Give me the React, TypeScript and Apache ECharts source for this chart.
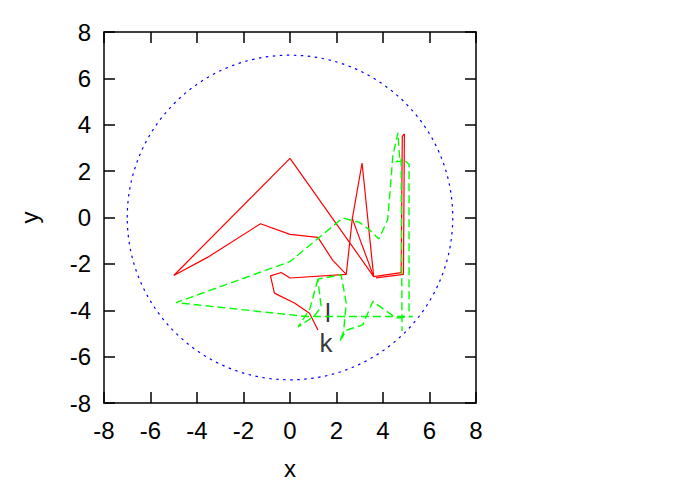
import React, { useEffect, useRef } from "react";
import * as echarts from "echarts";

const xTicks = [-8, -6, -4, -2, 0, 2, 4, 6, 8];
const yTicks = [-8, -6, -4, -2, 0, 2, 4, 6, 8];

// red solid trajectory (two pieces)
const redA: number[][] = [
  [1.2, -4.85], [0.84, -4.13], [0.19, -3.69], [-0.67, -3.26], [-0.84, -2.52],
  [-0.38, -2.37], [0.0, -2.61], [2.42, -2.45], [2.68, -0.05], [3.1, 2.35],
  [3.6, -2.55], [0.0, 2.55], [-5.0, -2.5], [-3.53, -1.71], [-1.27, -0.27],
  [0.0, -0.73], [1.2, -0.86], [1.84, -1.85], [2.42, -2.45],
];
const redB: number[][] = [
  [2.68, -0.05], [3.6, -2.55], [4.78, -2.38], [4.83, 3.5], [4.92, 3.6],
  [4.88, -2.45], [3.7, -2.6],
];

// green dashed trajectory (two pieces)
const greenA: number[][] = [
  [1.2, -2.66], [0.85, -3.95], [0.35, -4.72], [1.05, -4.25], [1.34, -3.85],
  [1.2, -2.66], [2.2, -2.47], [2.42, -3.7], [2.3, -4.95], [2.13, -5.35],
  [2.45, -4.85], [3.13, -4.63], [3.56, -3.62], [4.57, -4.34], [5.28, -4.27],
  [0.7, -4.27], [-4.9, -3.67], [0.0, -1.9], [2.27, -0.02], [2.99, -0.21],
  [3.42, -0.53], [3.82, -0.93], [4.2, -0.1], [4.31, 1.2], [4.42, 2.64],
  [4.64, 3.65], [4.72, 2.5], [4.55, 2.4], [4.95, 2.45], [5.12, 2.3],
  [5.12, -4.2],
];
const greenB: number[][] = [
  [4.78, 2.55], [4.82, -4.9],
];

// dotted circle: center x, center y, radius
const circle: number[][] = [[0, 0, 7]];

// text labels
const textLabels = [
  { name: "l", value: [1.63, -4.1] },
  { name: "k", value: [1.55, -5.4] },
];

const FONT = "'Liberation Sans', Arial, sans-serif";

export default function App() {
  const ref = useRef<HTMLDivElement>(null);
  useEffect(() => {
    if (!ref.current) return;
    const chart = echarts.init(ref.current, undefined, { renderer: "svg" });
    const axisCommon = {
      type: "value" as const,
      min: -8,
      max: 8,
      interval: 2,
      splitLine: { show: false },
      axisLine: { show: true, onZero: false, lineStyle: { color: "#000", width: 1.5 } },
      axisTick: { show: true, inside: true, length: 11, lineStyle: { color: "#000", width: 1.5 } },
    };
    chart.setOption({
      animation: false,
      backgroundColor: "#fff",
      grid: { left: 104, top: 32, width: 372, height: 371, containLabel: false },
      xAxis: [
        {
          ...axisCommon,
          position: "bottom",
          name: "x",
          nameLocation: "middle",
          nameGap: 53,
          nameTextStyle: { fontFamily: FONT, fontSize: 24, color: "#000" },
          axisLabel: {
            fontFamily: FONT, fontSize: 24, color: "#000", margin: 15,
            formatter: (v: number) => (xTicks.includes(v) ? String(v) : ""),
          },
        },
        { ...axisCommon, position: "top", axisLabel: { show: false } },
      ],
      yAxis: [
        {
          ...axisCommon,
          position: "left",
          name: "y",
          nameLocation: "middle",
          nameGap: 63,
          nameTextStyle: { fontFamily: FONT, fontSize: 24, color: "#000" },
          axisLabel: {
            fontFamily: FONT, fontSize: 24, color: "#000", margin: 13,
            formatter: (v: number) => (yTicks.includes(v) ? String(v) : ""),
          },
        },
        { ...axisCommon, position: "right", axisLabel: { show: false } },
      ],
      series: [
        {
          type: "custom",
          data: circle,
          clip: false,
          encode: { x: 0, y: 1 },
          renderItem: (params: any, api: any) => {
            const c = api.coord([api.value(0), api.value(1)]);
            const s = api.size([api.value(2), api.value(2)]);
            return {
              type: "ellipse",
              shape: { cx: c[0], cy: c[1], rx: s[0], ry: s[1] },
              style: { fill: "none", stroke: "#0000ff", lineWidth: 1.2, lineDash: [2.5, 4.5] },
            };
          },
        },
        ...[redA, redB].map((d) => ({
          type: "line",
          data: d,
          symbol: "none",
          lineStyle: { color: "#ff0000", width: 1.2 },
        })),
        ...[greenA, greenB].map((d) => ({
          type: "line",
          data: d,
          symbol: "none",
          lineStyle: { color: "#00ff00", width: 1.4, type: [8, 4] },
        })),
        {
          type: "scatter",
          data: textLabels,
          symbolSize: 0,
          label: {
            show: true,
            position: "inside",
            formatter: (p: any) => p.name,
            fontFamily: FONT,
            fontSize: 26,
            color: "#000",
          },
        },
      ],
    });
    return () => chart.dispose();
  }, []);
  return (
    <div
      ref={ref}
      style={{ position: "fixed", left: 0, top: 0, width: 692, height: 485, background: "#fff" }}
    />
  );
}
